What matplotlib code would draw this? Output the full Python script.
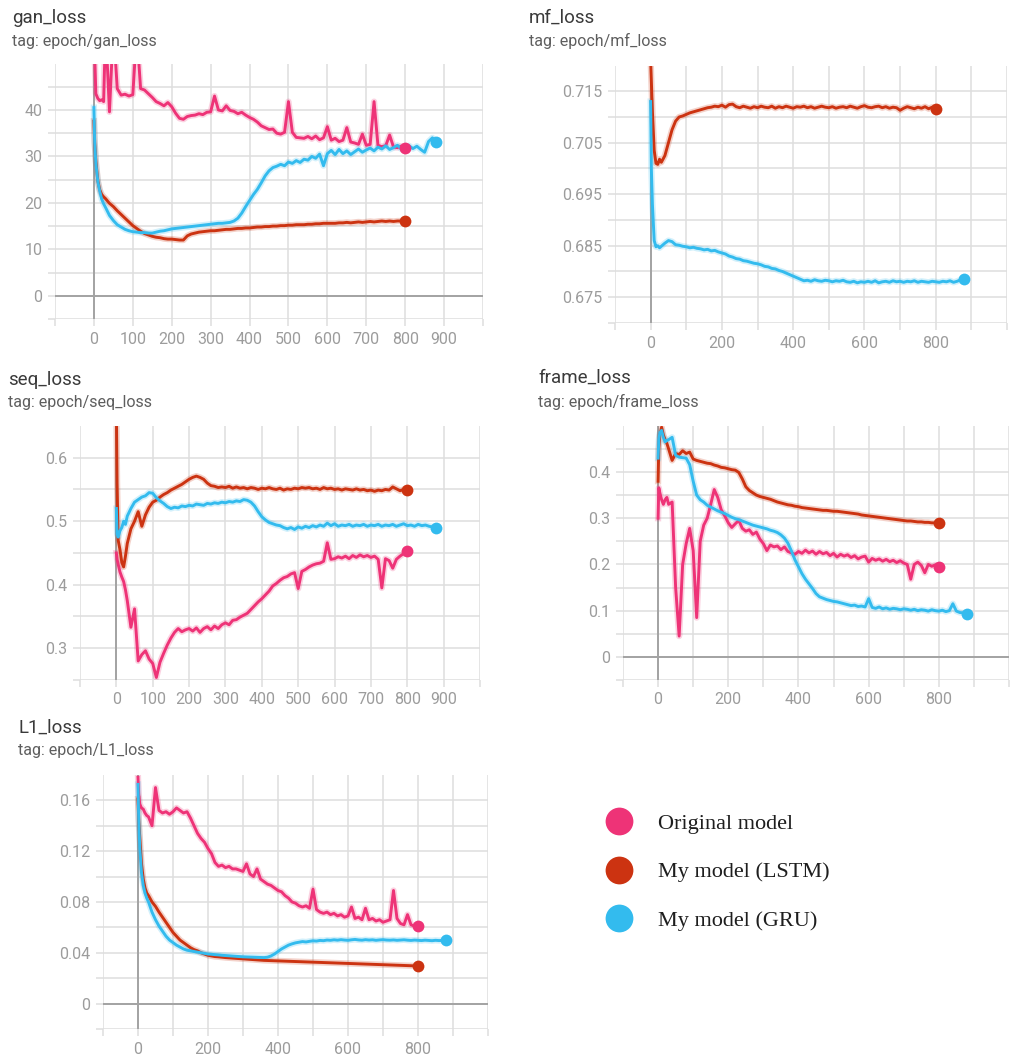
import numpy as np
import matplotlib
matplotlib.use('Agg')
import matplotlib.pyplot as plt
from matplotlib.lines import Line2D
from matplotlib.font_manager import FontProperties

W, H = 1012, 1059

# ---------------- data ----------------
EARLY = [0, 2, 5, 10, 15, 20, 25]
E800 = EARLY + list(range(30, 801, 10))
E880 = EARLY + list(range(30, 881, 10))

SERIES_NAMES = ['Original model', 'My model (LSTM)', 'My model (GRU)']
COLORS = ['#ee3377', '#cc3311', '#33bbee']

gan_orig = [62, 52, 43.5, 42.5, 42.0, 42.2, 41.8,
            58, 39.6, 58, 44.6, 43.2, 43.4, 43.0, 43.3, 57, 44.6,
            44.3, 43.5, 42.7, 41.8, 41.4, 40.9, 41.6, 40.7, 39.3, 38.2,
            38.0, 38.6, 38.8, 38.9, 39.2, 39.0, 39.5, 39.6, 43.0, 40.0,
            39.8, 40.9, 39.9, 39.7, 39.2, 39.5, 38.9, 38.4, 38.0, 37.4,
            36.6, 36.2, 35.8, 35.9, 35.0, 34.8, 35.2, 41.8, 35.2, 34.1,
            34.0, 33.9, 34.3, 33.8, 34.4, 33.6, 34.0, 36.4, 33.5, 33.9,
            33.2, 33.5, 36.2, 33.1, 32.9, 32.6, 34.8, 32.4, 32.6, 41.8,
            32.4, 32.1, 32.3, 34.6, 32.0, 31.9, 32.2, 31.8]
gan_lstm = [37.6, 33.0, 29.0, 24.8, 22.8, 21.8, 21.3,
            20.9, 19.9, 19.2, 18.3, 17.5, 16.7, 15.9, 15.1, 14.5, 13.9,
            13.4, 13.1, 12.8, 12.6, 12.5, 12.3, 12.2, 12.2, 12.1, 12.0,
            12.0, 12.9, 13.3, 13.5, 13.7, 13.8, 13.9, 14.0, 14.0, 14.1,
            14.2, 14.3, 14.3, 14.4, 14.5, 14.5, 14.6, 14.6, 14.7, 14.8,
            14.8, 14.9, 14.9, 15.0, 15.0, 15.1, 15.1, 15.2, 15.2, 15.3,
            15.3, 15.3, 15.4, 15.4, 15.5, 15.5, 15.6, 15.6, 15.6, 15.6,
            15.7, 15.7, 15.8, 15.7, 15.8, 15.9, 15.8, 15.9, 16.0, 15.9,
            16.0, 16.1, 16.0, 16.1, 16.0, 16.1, 16.1, 16.0]
gan_gru = [40.5, 33.0, 28.5, 24.6, 22.5, 20.8, 19.8,
           19.0, 17.3, 16.2, 15.3, 14.8, 14.3, 14.0, 13.8, 13.7, 13.6,
           13.6, 13.5, 13.5, 13.7, 13.9, 14.0, 14.2, 14.4, 14.5, 14.6,
           14.7, 14.8, 14.9, 15.0, 15.1, 15.2, 15.3, 15.4, 15.5, 15.6,
           15.6, 15.7, 15.8, 16.1, 16.7, 17.8, 19.2, 20.5, 21.8, 22.9,
           24.3, 25.8, 26.9, 27.6, 27.9, 28.3, 28.0, 28.8, 28.5, 29.1,
           28.7, 29.4, 29.2, 30.0, 29.6, 30.5, 28.0, 30.6, 31.3, 30.4,
           31.5, 30.6, 31.2, 30.4, 31.0, 31.6, 30.9, 31.4, 31.8, 31.2,
           32.0, 31.6, 32.3, 31.5, 31.9, 32.4, 31.6, 31.9, 32.3, 31.7,
           32.2, 31.5, 30.9, 33.2, 34.0, 33.0]

mf_lstm = [0.7210, 0.7170, 0.7110, 0.7035, 0.7010, 0.7008, 0.7018,
           0.7012, 0.7025, 0.7050, 0.7075, 0.7092, 0.7100, 0.7102, 0.7105, 0.7108, 0.7110,
           0.7112, 0.7114, 0.7116, 0.7118, 0.7119, 0.7121, 0.7120, 0.7123, 0.7119, 0.7124,
           0.7125, 0.7120, 0.7118, 0.7121, 0.7119, 0.7117, 0.7120, 0.7118, 0.7121, 0.7119,
           0.7118, 0.7121, 0.7117, 0.7120, 0.7118, 0.7121, 0.7119, 0.7117, 0.7120, 0.7119,
           0.7121, 0.7118, 0.7120, 0.7117, 0.7119, 0.7121, 0.7119, 0.7118, 0.7120, 0.7117,
           0.7119, 0.7120, 0.7118, 0.7121, 0.7119, 0.7117, 0.7120, 0.7122, 0.7119, 0.7118,
           0.7120, 0.7121, 0.7118, 0.7120, 0.7117, 0.7119, 0.7118, 0.7113, 0.7117, 0.7120,
           0.7118, 0.7116, 0.7119, 0.7117, 0.7120, 0.7116, 0.7119, 0.7116]
mf_gru = [0.7130, 0.7000, 0.6930, 0.6860, 0.6848, 0.6850, 0.6846,
          0.6849, 0.6855, 0.6860, 0.6858, 0.6852, 0.6851, 0.6849, 0.6848, 0.6846, 0.6847,
          0.6845, 0.6844, 0.6842, 0.6843, 0.6840, 0.6841, 0.6838, 0.6836, 0.6834, 0.6830,
          0.6828, 0.6825, 0.6824, 0.6821, 0.6820, 0.6818, 0.6816, 0.6815, 0.6813, 0.6810,
          0.6809, 0.6806, 0.6805, 0.6802, 0.6800, 0.6797, 0.6794, 0.6791, 0.6788, 0.6785,
          0.6782, 0.6783, 0.6781, 0.6784, 0.6782, 0.6781, 0.6783, 0.6782, 0.6780, 0.6782,
          0.6781, 0.6783, 0.6780, 0.6779, 0.6781, 0.6778, 0.6780, 0.6779, 0.6781, 0.6779,
          0.6782, 0.6778, 0.6780, 0.6781, 0.6779, 0.6782, 0.6780, 0.6781, 0.6779, 0.6781,
          0.6780, 0.6782, 0.6779, 0.6781, 0.6780, 0.6779, 0.6781, 0.6780, 0.6779, 0.6781,
          0.6780, 0.6782, 0.6779, 0.6781, 0.6784, 0.6786]

seq_orig = [0.450, 0.440, 0.432, 0.420, 0.412, 0.405, 0.392,
            0.375, 0.333, 0.362, 0.280, 0.290, 0.296, 0.283, 0.276, 0.254, 0.278,
            0.292, 0.305, 0.316, 0.325, 0.331, 0.326, 0.329, 0.331, 0.327, 0.332,
            0.325, 0.331, 0.334, 0.329, 0.335, 0.331, 0.337, 0.340, 0.337, 0.344,
            0.345, 0.349, 0.352, 0.355, 0.361, 0.367, 0.373, 0.378, 0.384, 0.390,
            0.398, 0.402, 0.407, 0.411, 0.413, 0.417, 0.419, 0.394, 0.421, 0.424,
            0.428, 0.431, 0.433, 0.434, 0.437, 0.466, 0.440, 0.441, 0.444, 0.442,
            0.445, 0.441, 0.446, 0.443, 0.447, 0.444, 0.446, 0.443, 0.445, 0.440,
            0.395, 0.441, 0.438, 0.426, 0.440, 0.445, 0.449, 0.453]
seq_lstm = [0.680, 0.560, 0.470, 0.455, 0.435, 0.428, 0.445,
            0.465, 0.488, 0.500, 0.515, 0.492, 0.510, 0.522, 0.530, 0.533, 0.538,
            0.542, 0.545, 0.549, 0.552, 0.555, 0.558, 0.562, 0.566, 0.569, 0.571,
            0.569, 0.566, 0.560, 0.556, 0.555, 0.553, 0.554, 0.553, 0.555, 0.552,
            0.554, 0.552, 0.553, 0.551, 0.553, 0.552, 0.550, 0.552, 0.551, 0.553,
            0.551, 0.550, 0.552, 0.549, 0.551, 0.550, 0.552, 0.551, 0.553, 0.552,
            0.553, 0.551, 0.552, 0.550, 0.553, 0.551, 0.552, 0.550, 0.551, 0.549,
            0.551, 0.550, 0.549, 0.551, 0.549, 0.550, 0.548, 0.549, 0.547, 0.549,
            0.548, 0.550, 0.549, 0.554, 0.551, 0.548, 0.550, 0.549]
seq_gru = [0.520, 0.480, 0.475, 0.485, 0.490, 0.500, 0.495,
           0.508, 0.520, 0.530, 0.534, 0.538, 0.540, 0.545, 0.544, 0.537, 0.532,
           0.528, 0.523, 0.520, 0.522, 0.521, 0.524, 0.523, 0.525, 0.524, 0.527,
           0.526, 0.525, 0.528, 0.527, 0.529, 0.528, 0.530, 0.529, 0.531, 0.530,
           0.532, 0.531, 0.534, 0.533, 0.530, 0.524, 0.515, 0.507, 0.502, 0.498,
           0.496, 0.494, 0.493, 0.490, 0.488, 0.490, 0.487, 0.491, 0.489, 0.492,
           0.490, 0.493, 0.491, 0.494, 0.492, 0.497, 0.493, 0.496, 0.492, 0.494,
           0.493, 0.495, 0.492, 0.494, 0.493, 0.495, 0.492, 0.494, 0.493, 0.495,
           0.492, 0.494, 0.493, 0.495, 0.492, 0.494, 0.496, 0.493, 0.494, 0.492,
           0.495, 0.493, 0.494, 0.492, 0.491, 0.490]

frame_orig = [0.300, 0.366, 0.355, 0.340, 0.330, 0.340, 0.345,
              0.330, 0.335, 0.150, 0.045, 0.200, 0.245, 0.278, 0.230, 0.085, 0.250,
              0.285, 0.300, 0.330, 0.362, 0.345, 0.318, 0.305, 0.290, 0.280, 0.288,
              0.295, 0.278, 0.272, 0.275, 0.265, 0.270, 0.255, 0.245, 0.230, 0.242,
              0.238, 0.240, 0.232, 0.238, 0.228, 0.225, 0.222, 0.228, 0.224, 0.231,
              0.225, 0.229, 0.222, 0.228, 0.223, 0.226, 0.219, 0.224, 0.216, 0.222,
              0.218, 0.221, 0.215, 0.219, 0.212, 0.216, 0.218, 0.205, 0.213, 0.209,
              0.212, 0.207, 0.211, 0.206, 0.209, 0.204, 0.208, 0.203, 0.200, 0.168,
              0.200, 0.205, 0.198, 0.182, 0.200, 0.196, 0.199, 0.195]
frame_lstm = [0.380, 0.450, 0.480, 0.497, 0.480, 0.470, 0.462,
              0.450, 0.425, 0.440, 0.438, 0.446, 0.440, 0.443, 0.428, 0.425, 0.423,
              0.421, 0.419, 0.418, 0.415, 0.413, 0.410, 0.409, 0.407, 0.405, 0.404,
              0.399, 0.385, 0.368, 0.360, 0.355, 0.350, 0.347, 0.345, 0.343, 0.341,
              0.338, 0.335, 0.333, 0.331, 0.329, 0.328, 0.326, 0.325, 0.323, 0.322,
              0.321, 0.320, 0.319, 0.318, 0.317, 0.317, 0.316, 0.315, 0.315, 0.314,
              0.313, 0.312, 0.311, 0.310, 0.309, 0.307, 0.306, 0.305, 0.304, 0.303,
              0.302, 0.301, 0.300, 0.299, 0.298, 0.297, 0.296, 0.295, 0.294, 0.294,
              0.293, 0.292, 0.292, 0.291, 0.291, 0.290, 0.290, 0.289]
frame_gru = [0.430, 0.470, 0.485, 0.490, 0.475, 0.465, 0.468,
             0.470, 0.475, 0.436, 0.432, 0.431, 0.430, 0.416, 0.380, 0.350, 0.340,
             0.335, 0.328, 0.324, 0.320, 0.316, 0.313, 0.310, 0.306, 0.302, 0.299,
             0.297, 0.294, 0.291, 0.288, 0.285, 0.283, 0.281, 0.279, 0.277, 0.274,
             0.272, 0.269, 0.264, 0.257, 0.246, 0.229, 0.210, 0.195, 0.180, 0.168,
             0.158, 0.148, 0.137, 0.130, 0.127, 0.124, 0.122, 0.120, 0.119, 0.117,
             0.115, 0.113, 0.111, 0.112, 0.109, 0.110, 0.108, 0.126, 0.107, 0.105,
             0.108, 0.104, 0.106, 0.103, 0.105, 0.104, 0.102, 0.104, 0.103, 0.101,
             0.103, 0.100, 0.102, 0.101, 0.099, 0.102, 0.100, 0.099, 0.101, 0.098,
             0.100, 0.115, 0.099, 0.096, 0.095, 0.093]

l1_orig = [0.178, 0.165, 0.157, 0.154, 0.153, 0.150, 0.148,
           0.147, 0.140, 0.170, 0.152, 0.150, 0.151, 0.149, 0.151, 0.154, 0.152,
           0.150, 0.151, 0.146, 0.140, 0.134, 0.130, 0.127, 0.122, 0.118, 0.111,
           0.108, 0.109, 0.107, 0.108, 0.106, 0.106, 0.105, 0.104, 0.110, 0.102,
           0.100, 0.106, 0.098, 0.096, 0.094, 0.093, 0.091, 0.089, 0.088, 0.085,
           0.083, 0.080, 0.079, 0.077, 0.076, 0.077, 0.075, 0.090, 0.074, 0.072,
           0.071, 0.072, 0.070, 0.071, 0.069, 0.070, 0.068, 0.069, 0.076, 0.067,
           0.068, 0.066, 0.075, 0.066, 0.067, 0.065, 0.066, 0.064, 0.065, 0.066,
           0.089, 0.067, 0.063, 0.062, 0.070, 0.062, 0.061, 0.0614]
l1_lstm = [0.161, 0.145, 0.131, 0.110, 0.098, 0.091, 0.087,
           0.085, 0.080, 0.0765, 0.072, 0.068, 0.064, 0.060, 0.056, 0.053, 0.050,
           0.048, 0.046, 0.044, 0.0425, 0.0415, 0.040, 0.039, 0.038, 0.0375, 0.037,
           0.0368, 0.0365, 0.0362, 0.036, 0.0358, 0.0356, 0.0354, 0.0352, 0.035, 0.0348,
           0.0346, 0.0344, 0.0342, 0.034, 0.0339, 0.0338, 0.0337, 0.0336, 0.0335, 0.0334,
           0.0333, 0.0332, 0.0331, 0.033, 0.0329, 0.0328, 0.0327, 0.0326, 0.0325, 0.0324,
           0.0323, 0.0322, 0.0321, 0.032, 0.0319, 0.0318, 0.0317, 0.0316, 0.0315, 0.0314,
           0.0313, 0.0312, 0.0311, 0.031, 0.0309, 0.0308, 0.0307, 0.0306, 0.0305, 0.0304,
           0.0303, 0.0302, 0.0301, 0.030, 0.0299, 0.0298, 0.0297, 0.0296]
l1_gru = [0.1725, 0.145, 0.123, 0.103, 0.093, 0.087, 0.083,
          0.080, 0.072, 0.066, 0.061, 0.057, 0.053, 0.050, 0.048, 0.046, 0.0445,
          0.043, 0.042, 0.0415, 0.041, 0.0405, 0.040, 0.0395, 0.039, 0.0388, 0.0385,
          0.0383, 0.038, 0.0378, 0.0376, 0.0374, 0.0372, 0.037, 0.0368, 0.0367, 0.0366,
          0.0365, 0.0364, 0.0363, 0.0362, 0.0365, 0.0375, 0.039, 0.041, 0.043, 0.0445,
          0.046, 0.047, 0.0478, 0.0483, 0.0488, 0.0485, 0.049, 0.0494, 0.0492, 0.0497,
          0.0495, 0.050, 0.0498, 0.0502, 0.0499, 0.0503, 0.050, 0.0498, 0.0502, 0.0505,
          0.0501, 0.0499, 0.0503, 0.050, 0.0502, 0.0498, 0.0501, 0.0503, 0.050, 0.0499,
          0.0501, 0.0498, 0.050, 0.0502, 0.0499, 0.0497, 0.050, 0.0498, 0.0496, 0.0499,
          0.0497, 0.0495, 0.0498, 0.0496, 0.0497, 0.0497]

# ---------------- style ----------------
GRID = '#dedede'
ZERO = '#a3a3a3'
TICK = '#9c9c9c'
TITLE_C = '#3a3a3a'
TAG_C = '#5e5e5e'
FONT = 'Roboto'

fig = plt.figure(figsize=(W / 100, H / 100), dpi=100)
fig.patch.set_facecolor('white')


def fx(px):
    return px / W


def fy(py):
    return 1 - py / H


def fmt(v):
    s = f'{v:.3f}'.rstrip('0').rstrip('.')
    if s in ('-0', ''):
        s = '0'
    return s


panels = [
    dict(name='gan_loss', box=(55, 64, 483, 319), title=(12, 18), tag=(12, 41),
         ylim=(-5, 49.9), ygrid=np.arange(-5, 50, 5), ylab=[0, 10, 20, 30, 40],
         xlab=list(range(0, 901, 100)),
         series=[(E800, gan_orig, 0), (E880, gan_gru, 2), (E800, gan_lstm, 1)]),
    dict(name='mf_loss', box=(615, 66, 1007, 323), title=(529, 18), tag=(529, 41),
         ylim=(0.670, 0.7199), ygrid=np.arange(0.670, 0.7199, 0.005),
         ylab=[0.675, 0.685, 0.695, 0.705, 0.715],
         xlab=list(range(0, 801, 200)),
         series=[(E880, mf_gru, 2), (E800, mf_lstm, 1)]),
    dict(name='seq_loss', box=(80, 426, 480, 680), title=(8, 380), tag=(8, 402),
         ylim=(0.25, 0.6499), ygrid=np.arange(0.25, 0.6499, 0.05),
         ylab=[0.3, 0.4, 0.5, 0.6],
         xlab=list(range(0, 901, 100)),
         series=[(E800, seq_orig, 0), (E880, seq_gru, 2), (E800, seq_lstm, 1)]),
    dict(name='frame_loss', box=(623, 426, 1009, 680), title=(538, 378), tag=(538, 402),
         ylim=(-0.05, 0.4995), ygrid=np.arange(-0.05, 0.4995, 0.05),
         ylab=[0, 0.1, 0.2, 0.3, 0.4],
         xlab=list(range(0, 801, 200)),
         series=[(E800, frame_orig, 0), (E880, frame_gru, 2), (E800, frame_lstm, 1)]),
    dict(name='L1_loss', box=(103, 775, 488, 1029), title=(18, 728), tag=(18, 751),
         ylim=(-0.02, 0.1799), ygrid=np.arange(-0.02, 0.1799, 0.02),
         ylab=[0, 0.04, 0.08, 0.12, 0.16],
         xlab=list(range(0, 801, 200)),
         series=[(E800, l1_orig, 0), (E880, l1_gru, 2), (E800, l1_lstm, 1)]),
]

xgrid = np.arange(-100, 1001, 100)

for p in panels:
    x0, y0, x1, y1 = p['box']
    ax = fig.add_axes([fx(x0), fy(y1), fx(x1 - x0), (y1 - y0) / H])
    ax.set_xlim(-100, 1000)
    ax.set_ylim(*p['ylim'])
    for s in ax.spines.values():
        s.set_visible(False)
    yg = np.round(p['ygrid'], 4)
    ax.set_yticks(yg)
    ax.set_yticklabels([fmt(v) if any(abs(v - l) < 1e-6 for l in p['ylab']) else '' for v in yg])
    ax.set_xticks(xgrid)
    ax.set_xticklabels([str(v) if v in p['xlab'] else '' for v in xgrid])
    ax.tick_params(axis='both', colors=GRID, labelcolor=TICK, labelsize=11.5,
                   length=5, width=1.1)
    ax.tick_params(axis='y', pad=4)
    ax.tick_params(axis='x', pad=4)
    for lab in ax.get_xticklabels() + ax.get_yticklabels():
        lab.set_fontfamily(FONT)
    ax.grid(True, color=GRID, lw=1.1, zorder=0)
    ax.set_axisbelow(True)
    ax.axvline(0, color=ZERO, lw=1.4, zorder=1)
    if p['ylim'][0] < 0 < p['ylim'][1]:
        ax.axhline(0, color=ZERO, lw=1.4, zorder=1)

    for xs, ys, ci in p['series']:
        n = min(len(xs), len(ys))
        xs, ys = np.array(xs[:n]), np.array(ys[:n])
        c = COLORS[ci]
        ax.plot(xs, ys, color=c, lw=4.5, alpha=0.22, zorder=2 + ci * 0.1,
                solid_joinstyle='round')
        ax.plot(xs, ys, color=c, lw=2.1, zorder=3 + ci * 0.1, solid_joinstyle='round')
        ax.plot(xs[-1:], ys[-1:], 'o', color=c, ms=8.5, mec='none', zorder=4 + ci * 0.1,
                clip_on=False)

    fig.text(fx(p['title'][0]), fy(p['title'][1]), p['name'], fontsize=13.5,
             family=FONT, color=TITLE_C, va='center', ha='left')
    fig.text(fx(p['tag'][0]), fy(p['tag'][1]), 'tag: epoch/' + p['name'], fontsize=11.5,
             family=FONT, color=TAG_C, va='center', ha='left')

handles = [Line2D([], [], marker='o', ls='', color=c, mec='none', ms=20) for c in COLORS]
leg = fig.legend(handles, SERIES_NAMES, loc='upper left',
                 bbox_to_anchor=(fx(606), fy(813)), bbox_transform=fig.transFigure,
                 frameon=False, prop=FontProperties(family='Liberation Serif', size=16),
                 handlelength=1.2, handletextpad=1.15, labelspacing=1.27,
                 borderpad=0, borderaxespad=0, labelcolor='#1e1e1e')

fig.savefig('out.png', dpi=100, facecolor='white')
